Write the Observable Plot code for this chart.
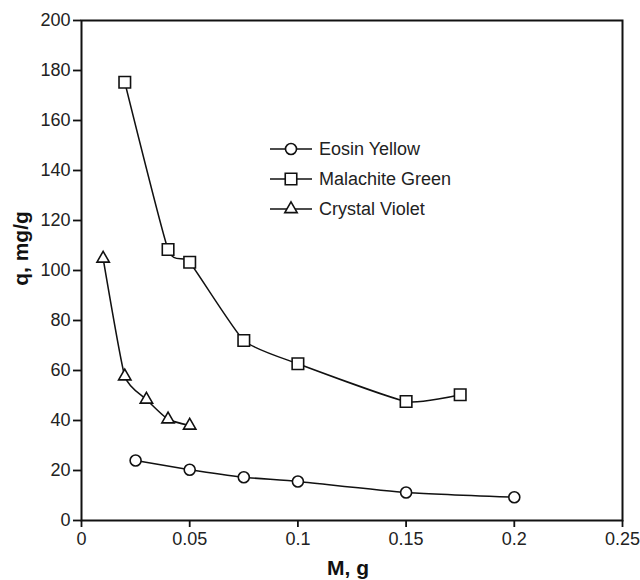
<!DOCTYPE html>
<html><head><meta charset="utf-8">
<script src="https://cdn.jsdelivr.net/npm/d3@7"></script>
<script src="https://cdn.jsdelivr.net/npm/@observablehq/plot@0.6"></script>
<style>
body{margin:0;background:#fff;}
#wrap{position:relative;width:640px;height:580px;font-family:"Liberation Sans",Arial,sans-serif;}
#legend{position:absolute;left:0;top:0;pointer-events:none;}
</style></head><body><div id="wrap"></div>
<script>
const seriesNames = ["Eosin Yellow", "Malachite Green", "Crystal Violet"];
const seriesSymbols = ["circle", "square", "triangle"];
const eosinM = [0.025, 0.05, 0.075, 0.1, 0.15, 0.2];
const eosinQ = [24, 20.3, 17.3, 15.6, 11.2, 9.3];
const malachiteM = [0.02, 0.04, 0.05, 0.075, 0.1, 0.15, 0.175];
const malachiteQ = [175.3, 108.4, 103.3, 72, 62.7, 47.6, 50.3];
const crystalM = [0.01, 0.02, 0.03, 0.04, 0.05];
const crystalQ = [104.8, 57.7, 48.4, 40.5, 38];
const xTicks = [0, 0.05, 0.1, 0.15, 0.2, 0.25];
const yTicks = [0, 20, 40, 60, 80, 100, 120, 140, 160, 180, 200];

const toRows = (name, ms, qs) => ms.map((m, i) => ({series: name, m, q: qs[i]}));
const eosin = toRows(seriesNames[0], eosinM, eosinQ);
const malachite = toRows(seriesNames[1], malachiteM, malachiteQ);
const crystal = toRows(seriesNames[2], crystalM, crystalQ);
const groups = [eosin, malachite, crystal];
const radii = [5.5, 6.5, 4.6];

const font = "'Liberation Sans', Arial, sans-serif";
const marks = [
  Plot.frame({stroke: "#111", strokeWidth: 2}),
  Plot.axisX({ticks: xTicks, tickSize: 7, tickPadding: 5, tickFormat: d => String(d), label: null, fontSize: 18, stroke: "#111", strokeWidth: 1.8, fill: "#222"}),
  Plot.axisY({ticks: yTicks, tickSize: 8, tickPadding: 3, label: null, fontSize: 18, stroke: "#111", strokeWidth: 1.8, fill: "#222"}),
  Plot.text(["M, g"], {frameAnchor: "bottom", lineAnchor: "middle", dx: -4, dy: 48, fontWeight: "bold", fontSize: 21, fill: "#111"}),
  Plot.text(["q, mg/g"], {frameAnchor: "left", textAnchor: "middle", lineAnchor: "middle", dx: -60, dy: -22, rotate: -90, fontWeight: "bold", fontSize: 21, fill: "#111"})
];
groups.forEach((g, i) => {
  marks.push(Plot.line(g, {x: "m", y: "q", curve: "cardinal", tension: 0.5, stroke: "#111", strokeWidth: 1.5}));
  marks.push(Plot.dot(g, {x: "m", y: "q", symbol: seriesSymbols[i], r: radii[i], fill: "white", stroke: "#111", strokeWidth: 1.6}));
});

const chart = Plot.plot({
  width: 640, height: 580,
  marginLeft: 81, marginRight: 18, marginTop: 20, marginBottom: 60,
  style: {fontFamily: font, fontSize: "18px", background: "white", color: "#111"},
  x: {domain: [0, 0.25]},
  y: {domain: [0, 200]},
  marks
});
const wrap = document.getElementById("wrap");
wrap.appendChild(chart);

// legend
const leg = d3.select(wrap).append("svg").attr("id", "legend").attr("width", 640).attr("height", 580);
const symMap = {circle: d3.symbolCircle, square: d3.symbolSquare, triangle: d3.symbolTriangle};
seriesNames.forEach((name, i) => {
  const y = 149 + i * 30;
  const g = leg.append("g").attr("transform", `translate(0,${y})`);
  g.append("line").attr("x1", 270).attr("x2", 312).attr("y1", 0).attr("y2", 0).attr("stroke", "#111").attr("stroke-width", 1.5);
  g.append("path").attr("transform", "translate(291,0)")
    .attr("d", d3.symbol(symMap[seriesSymbols[i]], Math.PI * radii[i] * radii[i])())
    .attr("fill", "white").attr("stroke", "#111").attr("stroke-width", 1.6);
  g.append("text").attr("x", 319).attr("y", 0).attr("dy", "0.35em").attr("font-size", 18)
    .attr("font-family", font).attr("fill", "#222").text(name);
});
</script></body></html>
